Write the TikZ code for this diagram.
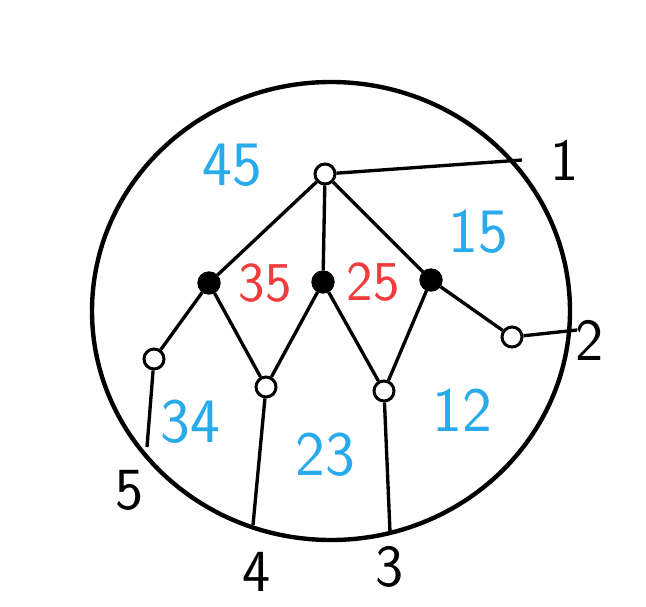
\documentclass[tikz,border=0pt]{standalone}
\usepackage{tikz}
\usetikzlibrary{positioning}
\definecolor{skyblue}{RGB}{40,170,235}
\definecolor{lightred}{RGB}{240,60,60}

\begin{document}
\begin{tikzpicture}[x=0.4mm, y=-0.4mm, line width=3.8pt,
		opennode/.style={draw, circle, fill=white, minimum size=8mm, inner sep=0pt, line width=3.4pt},
		fullnode/.style={draw, circle, fill=black, minimum size=8mm, inner sep=0pt},
		numlabel/.style={font=\sffamily\fontsize{68}{68}\selectfont},
		facelabel/.style={font=\sffamily\fontsize{72}{72}\selectfont, text=skyblue},
		edgelabel/.style={font=\sffamily\fontsize{64}{64}\selectfont, text=lightred}]
				\useasboundingbox (0,0) rectangle (646,607);
				\draw[line width=5pt] (331,311) ellipse [x radius=239, y radius=229];
				% vertices
				\node[opennode] (a) at (325,174) {};
				\node[fullnode] (b1) at (209,283) {};
				\node[fullnode] (b2) at (323,282) {};
				\node[fullnode] (b3) at (431,280) {};
				\node[opennode] (c5) at (154,359) {};
				\node[opennode] (c4) at (266,387) {};
				\node[opennode] (c3) at (384,391) {};
				\node[opennode] (c2) at (512,337) {};
				% ends on the circle
				\coordinate (e1) at (522,160);
				\coordinate (e2) at (577,330);
				\coordinate (e3) at (390,532);
				\coordinate (e4) at (253,525);
				\coordinate (e5) at (147,447);
				\draw (a) -- (b1);
				\draw (a) -- (b2);
				\draw (a) -- (b3);
				\draw (b1) -- (c5);
				\draw (b1) -- (c4);
				\draw (b2) -- (c4);
				\draw (b2) -- (c3);
				\draw (b3) -- (c3);
				\draw (b3) -- (c2);
				\draw (a) -- (e1);
				\draw (c2) -- (e2);
				\draw (c3) -- (e3);
				\draw (c4) -- (e4);
				\draw (c5) -- (e5);
				% outer labels
				\node[numlabel] (n1) at (565,160) {1};
				\node[numlabel] (n2) at (590,340) {2};
				\node[numlabel] (n3) at (390,567) {3};
				\node[numlabel] (n4) at (257,572) {4};
				\node[numlabel] (n5) at (130,490) {5};
				% faces
				\node[facelabel] (f45) at (232,165) {45};
				\node[facelabel] (f15) at (478,232) {15};
				\node[facelabel] (f34) at (190,422) {34};
				\node[facelabel] (f23) at (325,455) {23};
				\node[facelabel] (f12) at (462,410) {12};
				\node[edgelabel] (r35) at (265,283) {35};
				\node[edgelabel] (r25) at (373,282) {25};
			\end{tikzpicture}
\end{document}
